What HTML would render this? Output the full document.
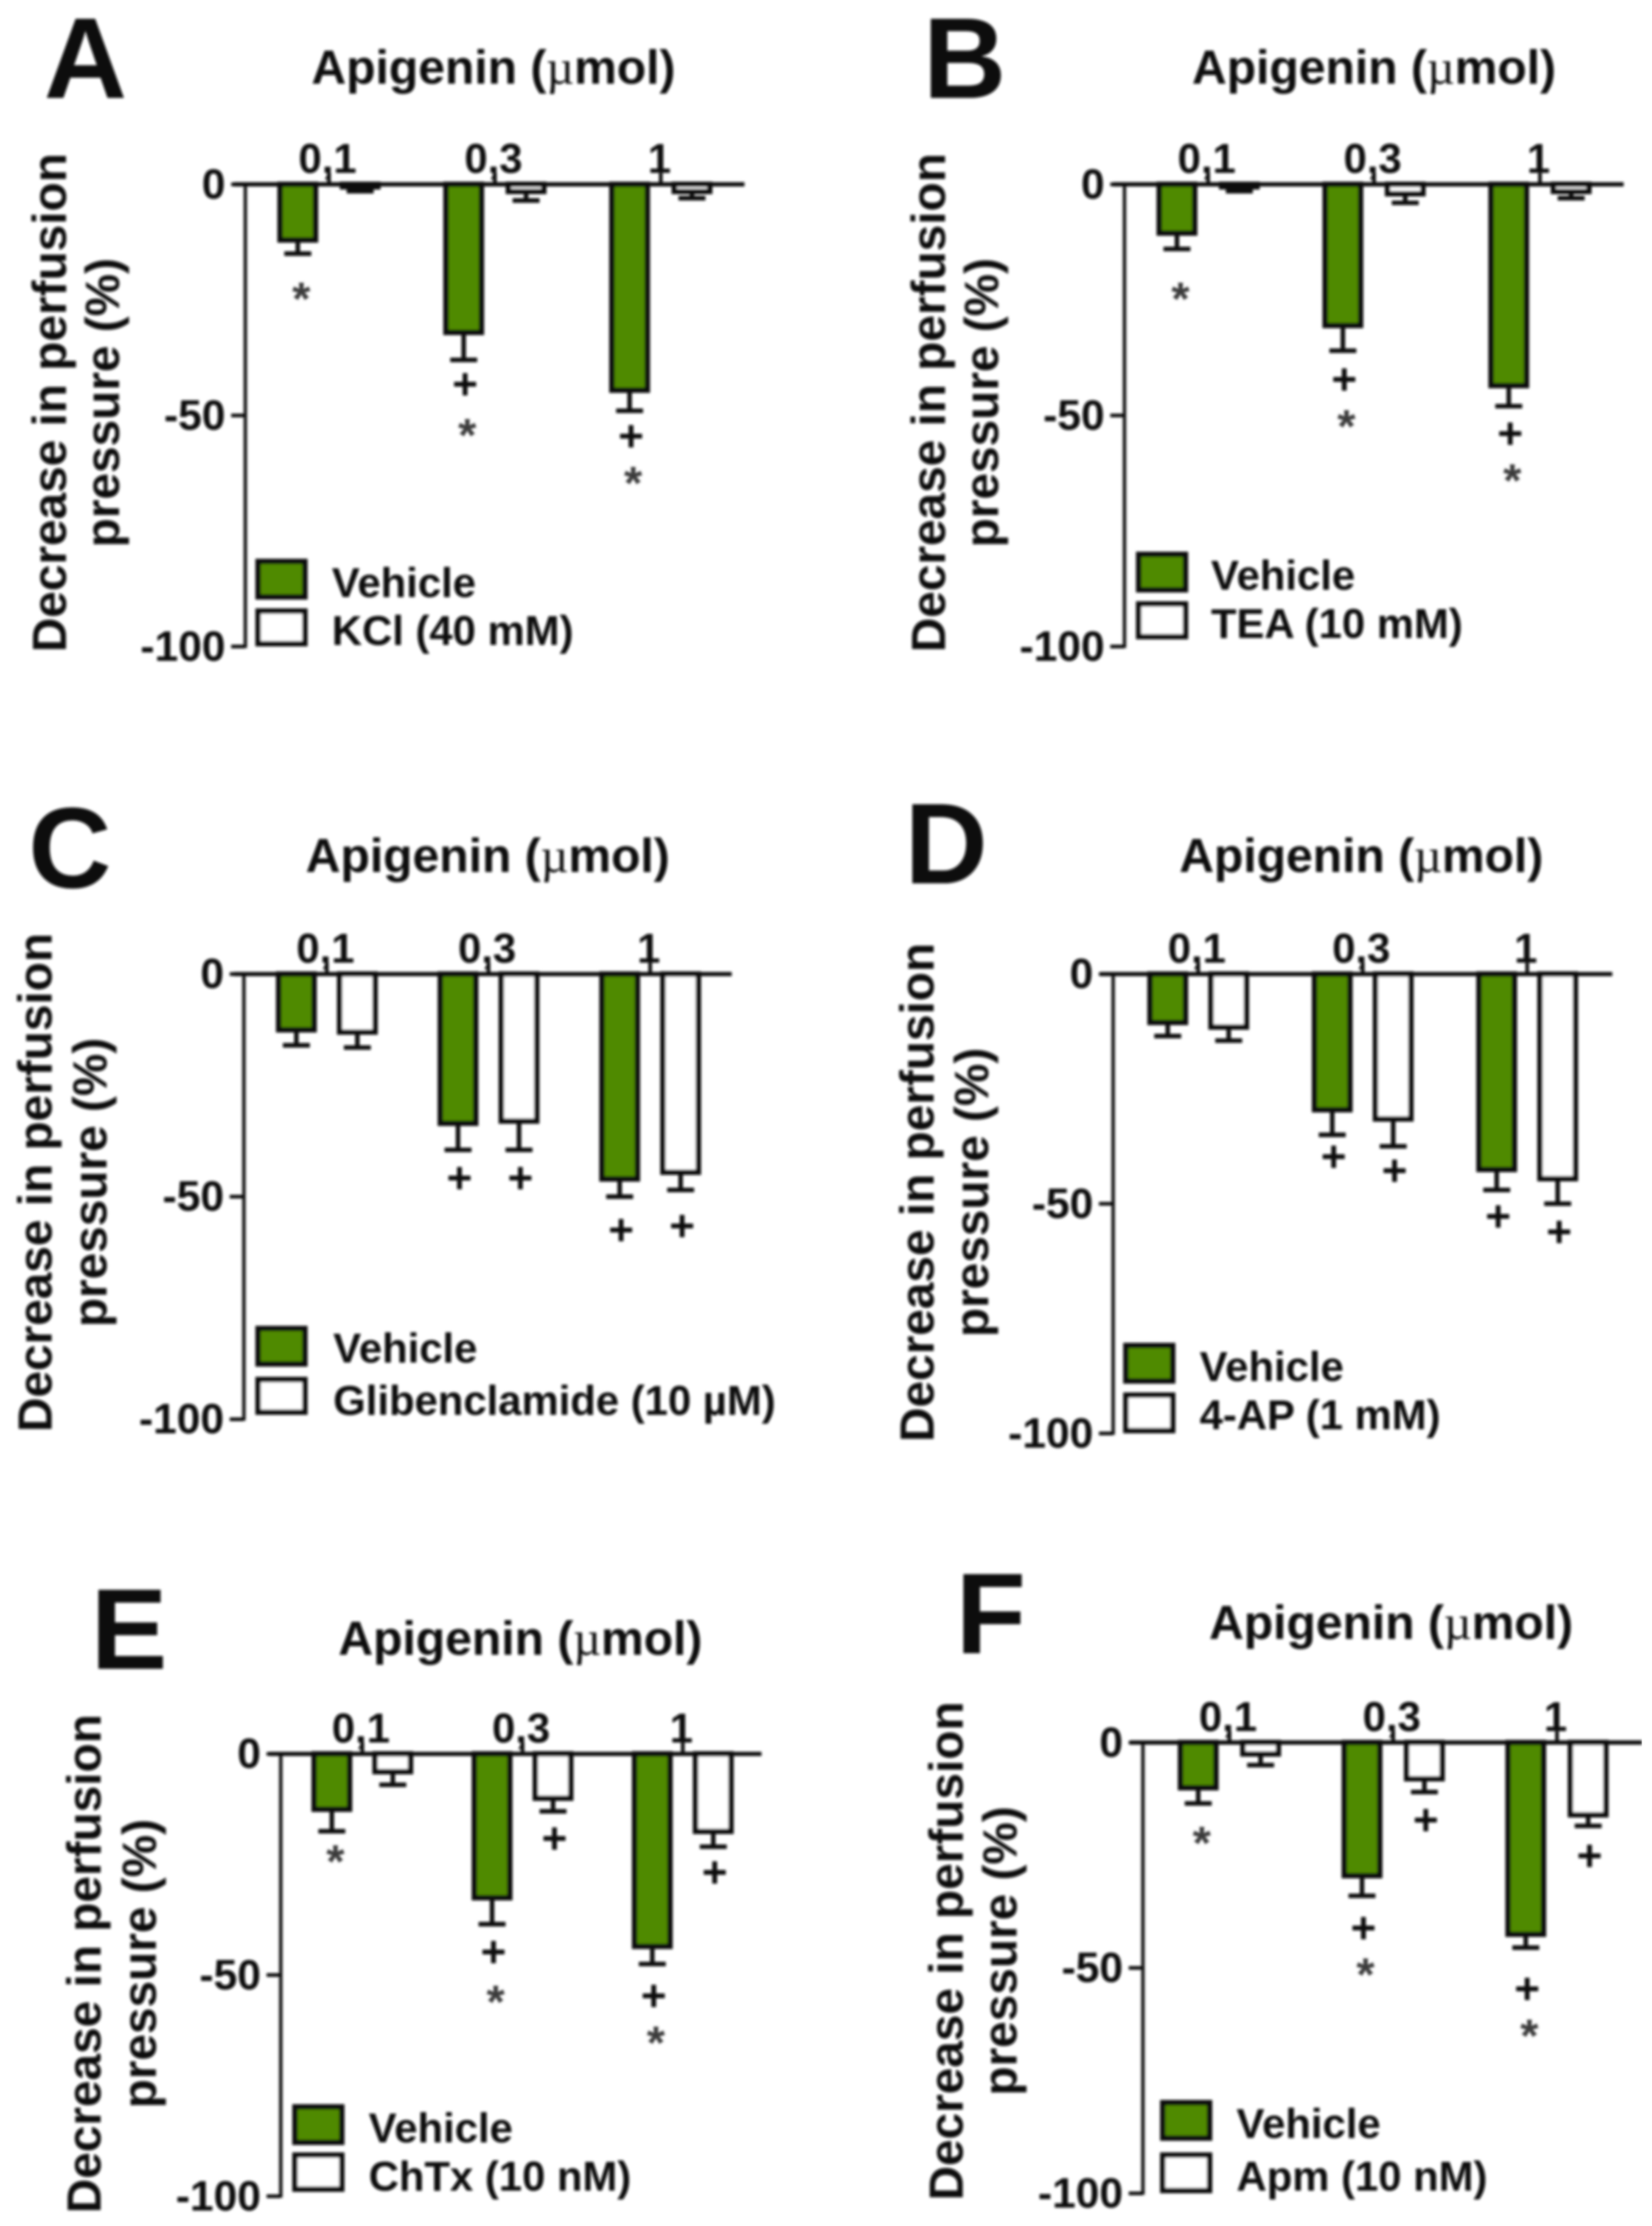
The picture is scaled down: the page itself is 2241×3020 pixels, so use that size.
<!DOCTYPE html>
<html lang="en">
<head>
<meta charset="utf-8">
<title>Apigenin perfusion pressure panels</title>
<style>
html,body{margin:0;padding:0;background:#fff;width:2241px;height:3020px;overflow:hidden}
svg{display:block}
text{font-family:"Liberation Sans",sans-serif;font-weight:700;fill:#0a0a0a}
</style>
</head>
<body>
<svg id="figure" xmlns="http://www.w3.org/2000/svg" width="2241" height="3020" viewBox="0 0 1165 1570">
<defs><filter id="soft" x="0" y="0" width="100%" height="100%"><feGaussianBlur stdDeviation="1"/></filter></defs>
<g id="root" filter="url(#soft)"></g>
</svg>
<script>
const doses = ['0,1', '0,3', '1'];
const yTickValues = [0, -50, -100];

const aVehicle = [-12.5, -32.5, -45];
const aVehicleErr = [-15, -38, -49];
const aTreatment = [-1, -2, -2];
const aTreatmentErr = [-1.5, -3.5, -3];
const aVehiclePlus = [null, -43.3, -54.6];
const aVehicleStar = [-23.3, -52.8, -63.2];
const aTreatmentPlus = [null, null, null];

const bVehicle = [-11, -31, -44];
const bVehicleErr = [-14, -36, -48];
const bTreatment = [-1, -2.5, -2];
const bTreatmentErr = [-1.5, -4, -3];
const bVehiclePlus = [null, -42.3, -54];
const bVehicleStar = [-23.3, -50.9, -62.6];
const bTreatmentPlus = [null, null, null];

const cVehicle = [-13, -34, -46.5];
const cVehicleErr = [-16, -39.5, -50];
const cTreatment = [-13.5, -33.5, -45];
const cTreatmentErr = [-16.5, -39.5, -48.5];
const cVehiclePlus = [null, -45.9, -57.6];
const cVehicleStar = [null, null, null];
const cTreatmentPlus = [null, -45.9, -56.7];

const dVehicle = [-11, -30, -43];
const dVehicleErr = [-13.5, -35, -47];
const dTreatment = [-12, -32, -45];
const dTreatmentErr = [-14.5, -37.5, -50];
const dVehiclePlus = [null, -39.8, -52.8];
const dVehicleStar = [null, null, null];
const dTreatmentPlus = [null, -42.9, -56.2];

const eVehicle = [-13, -33, -44];
const eVehicleErr = [-17.5, -38.5, -47.5];
const eTreatment = [-4.5, -10.5, -18];
const eTreatmentErr = [-7, -13, -21];
const eVehiclePlus = [null, -44.9, -54.8];
const eVehicleStar = [-22.8, -54.5, -63.8];
const eTreatmentPlus = [null, -19.2, -26.9];

const fVehicle = [-10.5, -30, -43];
const fVehicleErr = [-13.5, -34, -45.5];
const fTreatment = [-3, -8.5, -16.5];
const fTreatmentErr = [-5, -11, -18.5];
const fVehiclePlus = [null, -41.2, -54.7];
const fVehicleStar = [-20.8, -50, -63.5];
const fTreatmentPlus = [null, -17.3, -25.2];

const panels = [
  {id:'a', letter:'A', lx:31, ly:69, tx:348, ty:59, t1:46.5, t2:84, tc:284, ax:173, y0:130, y100:456, xs:165, xe:525, tick:232, gap:117, off:22,
   treatment:'KCl (40 mM)', sx:182, sy1:396, sy2:431, sh1:25, sh2:23, lt:234, lb1:421, lb2:455,
   veh:aVehicle, vehE:aVehicleErr, trt:aTreatment, trtE:aTreatmentErr, vp:aVehiclePlus, vs:aVehicleStar, tp:aTreatmentPlus},
  {id:'b', letter:'B', lx:651, ly:69, tx:969, ty:59, t1:666.5, t2:704, tc:284, ax:793, y0:130, y100:456, xs:785, xe:1145, tick:852, gap:117, off:22,
   treatment:'TEA (10 mM)', sx:803, sy1:391, sy2:426, sh1:25, sh2:23, lt:854, lb1:416, lb2:450,
   veh:bVehicle, vehE:bVehicleErr, trt:bTreatment, trtE:bTreatmentErr, vp:bVehiclePlus, vs:bVehicleStar, tp:bTreatmentPlus},
  {id:'c', letter:'C', lx:20, ly:626, tx:344, ty:615, t1:36.5, t2:75, tc:834, ax:172, y0:687, y100:1001, xs:165, xe:516, tick:230.5, gap:114, off:21.5,
   treatment:'Glibenclamide (10 \u00b5M)', sx:182, sy1:937, sy2:973, sh1:25, sh2:23, lt:235, lb1:961, lb2:998,
   veh:cVehicle, vehE:cVehicleErr, trt:cTreatment, trtE:cTreatmentErr, vp:cVehiclePlus, vs:cVehicleStar, tp:cTreatmentPlus},
  {id:'d', letter:'D', lx:638, ly:623, tx:960, ty:615, t1:658.5, t2:697, tc:841, ax:785, y0:687, y100:1011, xs:776, xe:1137, tick:845, gap:116, off:21.5,
   treatment:'4-AP (1 mM)', sx:794, sy1:949, sy2:984, sh1:25, sh2:25, lt:846, lb1:974, lb2:1008,
   veh:dVehicle, vehE:dVehicleErr, trt:dTreatment, trtE:dTreatmentErr, vp:dVehiclePlus, vs:dVehicleStar, tp:dTreatmentPlus},
  {id:'e', letter:'E', lx:64, ly:1177, tx:367, ty:1167, t1:71, t2:110, tc:1385, ax:198, y0:1237, y100:1549, xs:190, xe:537, tick:255.5, gap:113, off:21.5,
   treatment:'ChTx (10 nM)', sx:208, sy1:1486, sy2:1520, sh1:25, sh2:24, lt:260, lb1:1511, lb2:1545,
   veh:eVehicle, vehE:eVehicleErr, trt:eTreatment, trtE:eTreatmentErr, vp:eVehiclePlus, vs:eVehicleStar, tp:eTreatmentPlus},
  {id:'f', letter:'F', lx:674, ly:1166, tx:981, ty:1156, t1:679, t2:717, tc:1376, ax:806, y0:1229, y100:1547, xs:797, xe:1158, tick:867, gap:115.5, off:22,
   treatment:'Apm (10 nM)', sx:820, sy1:1483, sy2:1520, sh1:25, sh2:25, lt:872, lb1:1508, lb2:1545,
   veh:fVehicle, vehE:fVehicleErr, trt:fTreatment, trtE:fTreatmentErr, vp:fVehiclePlus, vs:fVehicleStar, tp:fTreatmentPlus}
];

const NS = 'http://www.w3.org/2000/svg';
const root = document.getElementById('root');
const GREEN = '#4f8a00';
const INK = '#0a0a0a';

function make(parent, tag, props, content) {
  const node = document.createElementNS(NS, tag);
  for (const key in props) node.setAttribute(key, props[key]);
  if (content !== undefined) node.textContent = content;
  parent.appendChild(node);
  return node;
}

function yAxisFn(p) {
  return function (v) { return p.y0 + (-v / 100) * (p.y100 - p.y0); };
}
function xAxisFn(p) {
  return function (i) { return p.tick + i * p.gap; };
}

function drawBar(g, p, i, side, value, err, fill) {
  const y = yAxisFn(p);
  const cx = xAxisFn(p)(i) + side * p.off;
  const w = 25;
  const stem = make(g, 'line', {x1:cx, x2:cx, y1:y(value), y2:y(err), stroke:INK, 'stroke-width':3.2});
  
  
  const cap = make(g, 'line', {x1:cx - 9.5, x2:cx + 9.5, y1:y(err), y2:y(err), stroke:INK, 'stroke-width':3.2});
  
  
  const bar = make(g, 'rect', {x:cx - w / 2, y:y(0), width:w, height:Math.max(y(value) - y(0) - 1.5, 0), fill:fill, stroke:INK, 'stroke-width':3.8});
  
  
}

function drawMark(g, p, i, side, value, glyph) {
  if (value === null) return;
  const y = yAxisFn(p);
  const isPlus = glyph === '+';
  const cx = xAxisFn(p)(i) + side * p.off + (isPlus ? 1 : 2.5);
  const mark = make(g, 'text', {
    x: cx, y: y(value) + (isPlus ? 10 : 16), 'text-anchor': 'middle',
    'font-size': isPlus ? 31 : 33, style: isPlus ? '' : 'fill:#3a3a3a'
  }, glyph);
  
  
}

panels.forEach(function (p) {
  const g = make(root, 'g', {});
  
  

  const letter = make(g, 'text', {x:p.lx, y:p.ly, 'font-size':81}, p.letter);
  
  

  const title = make(g, 'text', {x:p.tx, y:p.ty, 'font-size':33.9, 'text-anchor':'middle'});
  
  
  make(title, 'tspan', {}, 'Apigenin (');
  make(title, 'tspan', {style:'font-family:\'Liberation Serif\',serif;font-weight:400'}, '\u00b5');
  make(title, 'tspan', {}, 'mol)');

  const yt1 = make(g, 'text', {x:0, y:0, 'font-size':33.7, 'text-anchor':'middle',
    transform:'translate(' + p.t1 + ',' + p.tc + ') rotate(-90)'}, 'Decrease in perfusion');
  
  
  const yt2 = make(g, 'text', {x:0, y:0, 'font-size':33.7, 'text-anchor':'middle',
    transform:'translate(' + p.t2 + ',' + p.tc + ') rotate(-90)'}, 'pressure (%)');
  
  

  const y = yAxisFn(p);
  const x = xAxisFn(p);

  doses.forEach(function (d, i) {
    drawBar(g, p, i, -1, p.veh[i], p.vehE[i], GREEN);
    drawBar(g, p, i, 1, p.trt[i], p.trtE[i], '#ffffff');
    drawMark(g, p, i, -1, p.vp[i], '+');
    drawMark(g, p, i, -1, p.vs[i], '*');
    drawMark(g, p, i, 1, p.tp[i], '+');
  });

  const yAxis = make(g, 'line', {x1:p.ax, x2:p.ax, y1:y(0), y2:y(-100) + 1, stroke:'#222', 'stroke-width':2.6});
  
  
  const xAxis = make(g, 'line', {x1:p.xs, x2:p.xe, y1:y(0), y2:y(0), stroke:INK, 'stroke-width':3});
  
  

  yTickValues.forEach(function (v) {
    const tick = make(g, 'line', {x1:p.ax - 10, x2:p.ax, y1:y(v), y2:y(v), stroke:INK, 'stroke-width':2.6});
    
    
    const label = make(g, 'text', {x:p.ax - 14, y:y(v) + 10, 'font-size':30, 'text-anchor':'end'}, String(v));
    
    
  });

  doses.forEach(function (d, i) {
    const tick = make(g, 'line', {x1:x(i), x2:x(i), y1:y(0) - 8, y2:y(0), stroke:INK, 'stroke-width':2.6});
    
    
    const label = make(g, 'text', {x:x(i) - 1, y:y(0) - 8, 'font-size':29.5, 'text-anchor':'middle'}, d);
    
    
  });

  const sw1 = make(g, 'rect', {x:p.sx, y:p.sy1, width:33, height:p.sh1, fill:GREEN, stroke:INK, 'stroke-width':3.8});
  
  
  const lab1 = make(g, 'text', {x:p.lt, y:p.lb1, 'font-size':29.5}, 'Vehicle');
  
  
  const sw2 = make(g, 'rect', {x:p.sx, y:p.sy2, width:33, height:p.sh2, fill:'#ffffff', stroke:INK, 'stroke-width':3.8});
  
  
  const lab2 = make(g, 'text', {x:p.lt, y:p.lb2, 'font-size':29.5}, p.treatment);
  
  
});
</script>
</body>
</html>
